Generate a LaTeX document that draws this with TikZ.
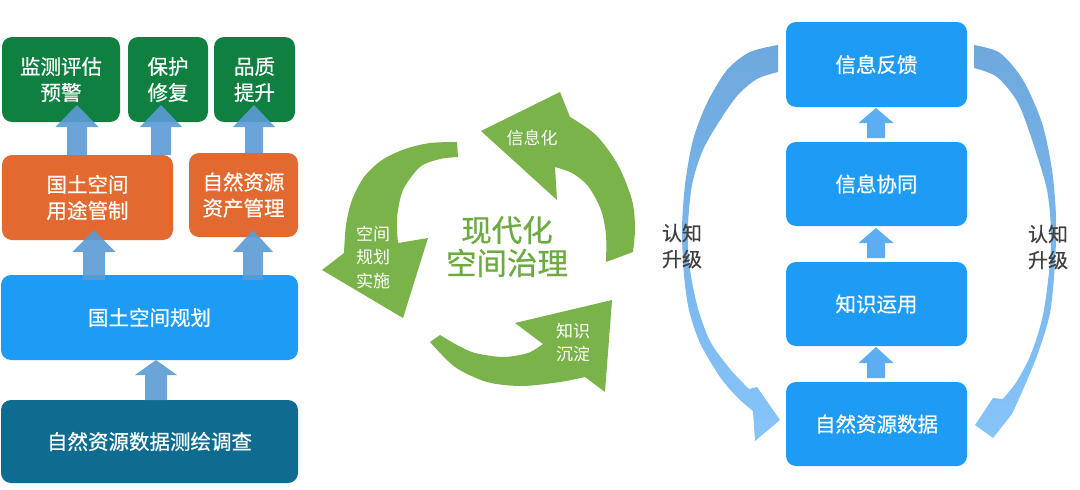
\documentclass[tikz,border=0pt]{standalone}
\usepackage{fontspec}
\setmainfont{Noto Sans CJK SC}
\newfontfamily\medfont{Noto Sans CJK SC}[FakeBold=0.6]
\definecolor{dgreen}{HTML}{108040}
\definecolor{orng}{HTML}{E26A30}
\definecolor{bblue}{HTML}{1E9BF5}
\definecolor{teal}{HTML}{0F6C91}
\definecolor{arrblue}{HTML}{5B9BD5}
\definecolor{arrlight}{HTML}{5DADF2}
\definecolor{cgreen}{HTML}{7AB349}
\definecolor{tgreen}{HTML}{6DAA3F}
\definecolor{lbltxt}{HTML}{404040}
\definecolor{ctop}{HTML}{6EA8DD}
\definecolor{cbot}{HTML}{86C4FA}
\newcommand\myBlkUp[7]{%
  \fill[#7] (#1,#2) -- (#1+#5,#3) -- (#1+#6,#3) -- (#1+#6,#4) -- (#1-#6,#4) -- (#1-#6,#3) -- (#1-#5,#3) -- cycle;}
\begin{document}
\begin{tikzpicture}[x=1pt,y=-1pt,
  box/.style={rounded corners=10pt, text=white, align=center, inner sep=0pt,
    font=\medfont\fontsize{20.5}{26}\selectfont},
  clabel/.style={text=white, align=center, inner sep=0pt, font=\fontsize{17}{23.5}\selectfont},
  sidelabel/.style={text=lbltxt, align=center, inner sep=0pt, font=\medfont\fontsize{20}{26}\selectfont},
  centertext/.style={text=tgreen, align=center, inner sep=0pt, font=\medfont\fontsize{30.5}{33}\selectfont}]
\useasboundingbox (0,0) rectangle (1080,490);
\fill[white] (0,0) rectangle (1080,490);

% ---------- left column ----------
\node[box, fill=dgreen, minimum width=118pt, minimum height=85pt] (g1) at (61,79.5) {监测评估\\预警};
\node[box, fill=dgreen, minimum width=80pt, minimum height=85pt] (g2) at (168,79.5) {保护\\修复};
\node[box, fill=dgreen, minimum width=81pt, minimum height=85pt] (g3) at (254.5,79.5) {品质\\提升};
\node[box, fill=orng, minimum width=171pt, minimum height=85pt] (o1) at (87.5,197.5) {国土空间\\用途管制};
\node[box, fill=orng, minimum width=109pt, minimum height=84pt] (o2) at (243.5,195) {自然资源\\资产管理};
\node[box, fill=bblue, minimum width=297pt, minimum height=85pt] (pl) at (149.5,317.5) {国土空间规划};
\node[box, fill=teal, minimum width=297pt, minimum height=83pt] (sv) at (149.5,441.5) {自然资源数据测绘调查};

\myBlkUp{77}{105}{127}{155}{21.5}{10}{arrblue, opacity=0.9}
\myBlkUp{161}{105}{127}{155}{21}{10}{arrblue, opacity=0.9}
\myBlkUp{254}{105}{127}{153}{21}{9}{arrblue, opacity=0.9}
\myBlkUp{94}{230}{252}{280}{21.5}{11}{arrblue, opacity=0.9}
\myBlkUp{253}{230}{252}{280}{20}{10}{arrblue, opacity=0.9}
\myBlkUp{156}{360}{375}{400}{21}{11}{arrblue, opacity=0.9}

% ---------- centre cycle ----------
% top-right arrow
\fill[cgreen] plot[smooth] coordinates {(570,117) (596,135) (618,165) (632,200) (635,228) (633,252)}
  -- plot[smooth] coordinates {(606,262) (606,235) (601,210) (588,186) (572,173) (555,167)}
  -- (557,200) -- (481,131) -- (560,92) -- cycle;
% left arrow
\fill[cgreen] plot[smooth] coordinates {(457,142) (430,143) (405,149) (382,160) (364,177) (352,200) (346,225) (344,253)}
  -- (322,270) -- (403,318) -- (428,238)
  -- plot[smooth] coordinates {(398,243) (397,218) (403,190) (420,167) (440,159) (458,157)}
  -- cycle;
% bottom arrow
\fill[cgreen] plot[smooth] coordinates {(440,335) (457,345) (475,353) (503,357) (528,353) (543,344)}
  -- (515,323) -- (612,300) -- (605,392)
  -- plot[smooth] coordinates {(585,377) (560,382) (522,386) (487,382) (455,367) (430,342)}
  -- cycle;

\node[clabel] (c1) at (532,138) {信息化};
\node[clabel] (c2) at (373,257) {空间\\规划\\实施};
\node[clabel] (c3) at (573,342.5) {知识\\沉淀};
\node[centertext] (ct) at (507,246.5) {现代化\\空间治理};

% ---------- right column ----------
\node[box, fill=bblue, minimum width=181pt, minimum height=85pt] (r1) at (876.5,64.5) {信息反馈};
\node[box, fill=bblue, minimum width=181pt, minimum height=84pt] (r2) at (876.5,184) {信息协同};
\node[box, fill=bblue, minimum width=181pt, minimum height=84pt] (r3) at (876.5,304) {知识运用};
\node[box, fill=bblue, minimum width=181pt, minimum height=84pt] (r4) at (876.5,424) {自然资源数据};

\myBlkUp{876}{108}{123}{138}{17.5}{9}{arrlight}
\myBlkUp{876}{228}{243}{258}{17.5}{9}{arrlight}
\myBlkUp{876}{347}{363}{378}{17.5}{9}{arrlight}

% left curved arrow
\shade[top color=ctop, bottom color=cbot]
  plot[smooth] coordinates {(778,45) (750,52) (727,70) (707,103) (693,140) (685,185) (682,230) (684,275) (689,310) (700,343) (720,377) (738,398) (753,411)}
  -- (755,441) -- (780,420) -- (757,387)
  -- plot[smooth] coordinates {(749,389) (730,369) (710,341) (697,305) (689,262) (688,225) (692,185) (702,152) (717,125) (737,96) (757,79) (778,72)}
  -- cycle;
% right curved arrow
\shade[top color=ctop, bottom color=cbot]
  plot[smooth] coordinates {(974,45) (1000,53) (1023,80) (1042,123) (1052,170) (1056,217) (1055,263) (1050,313) (1038,353) (1025,385) (1012,414)}
  -- (993,438) -- (975,425) -- (993,398)
  -- plot[smooth] coordinates {(1003,399) (1017,381) (1031,354) (1043,315) (1050,263) (1051,230) (1047,190) (1034,146) (1018,103) (997,77) (974,68)}
  -- cycle;

\node[sidelabel] (s1) at (682,246) {认知\\升级};
\node[sidelabel] (s2) at (1048,247) {认知\\升级};
\end{tikzpicture}
\end{document}
